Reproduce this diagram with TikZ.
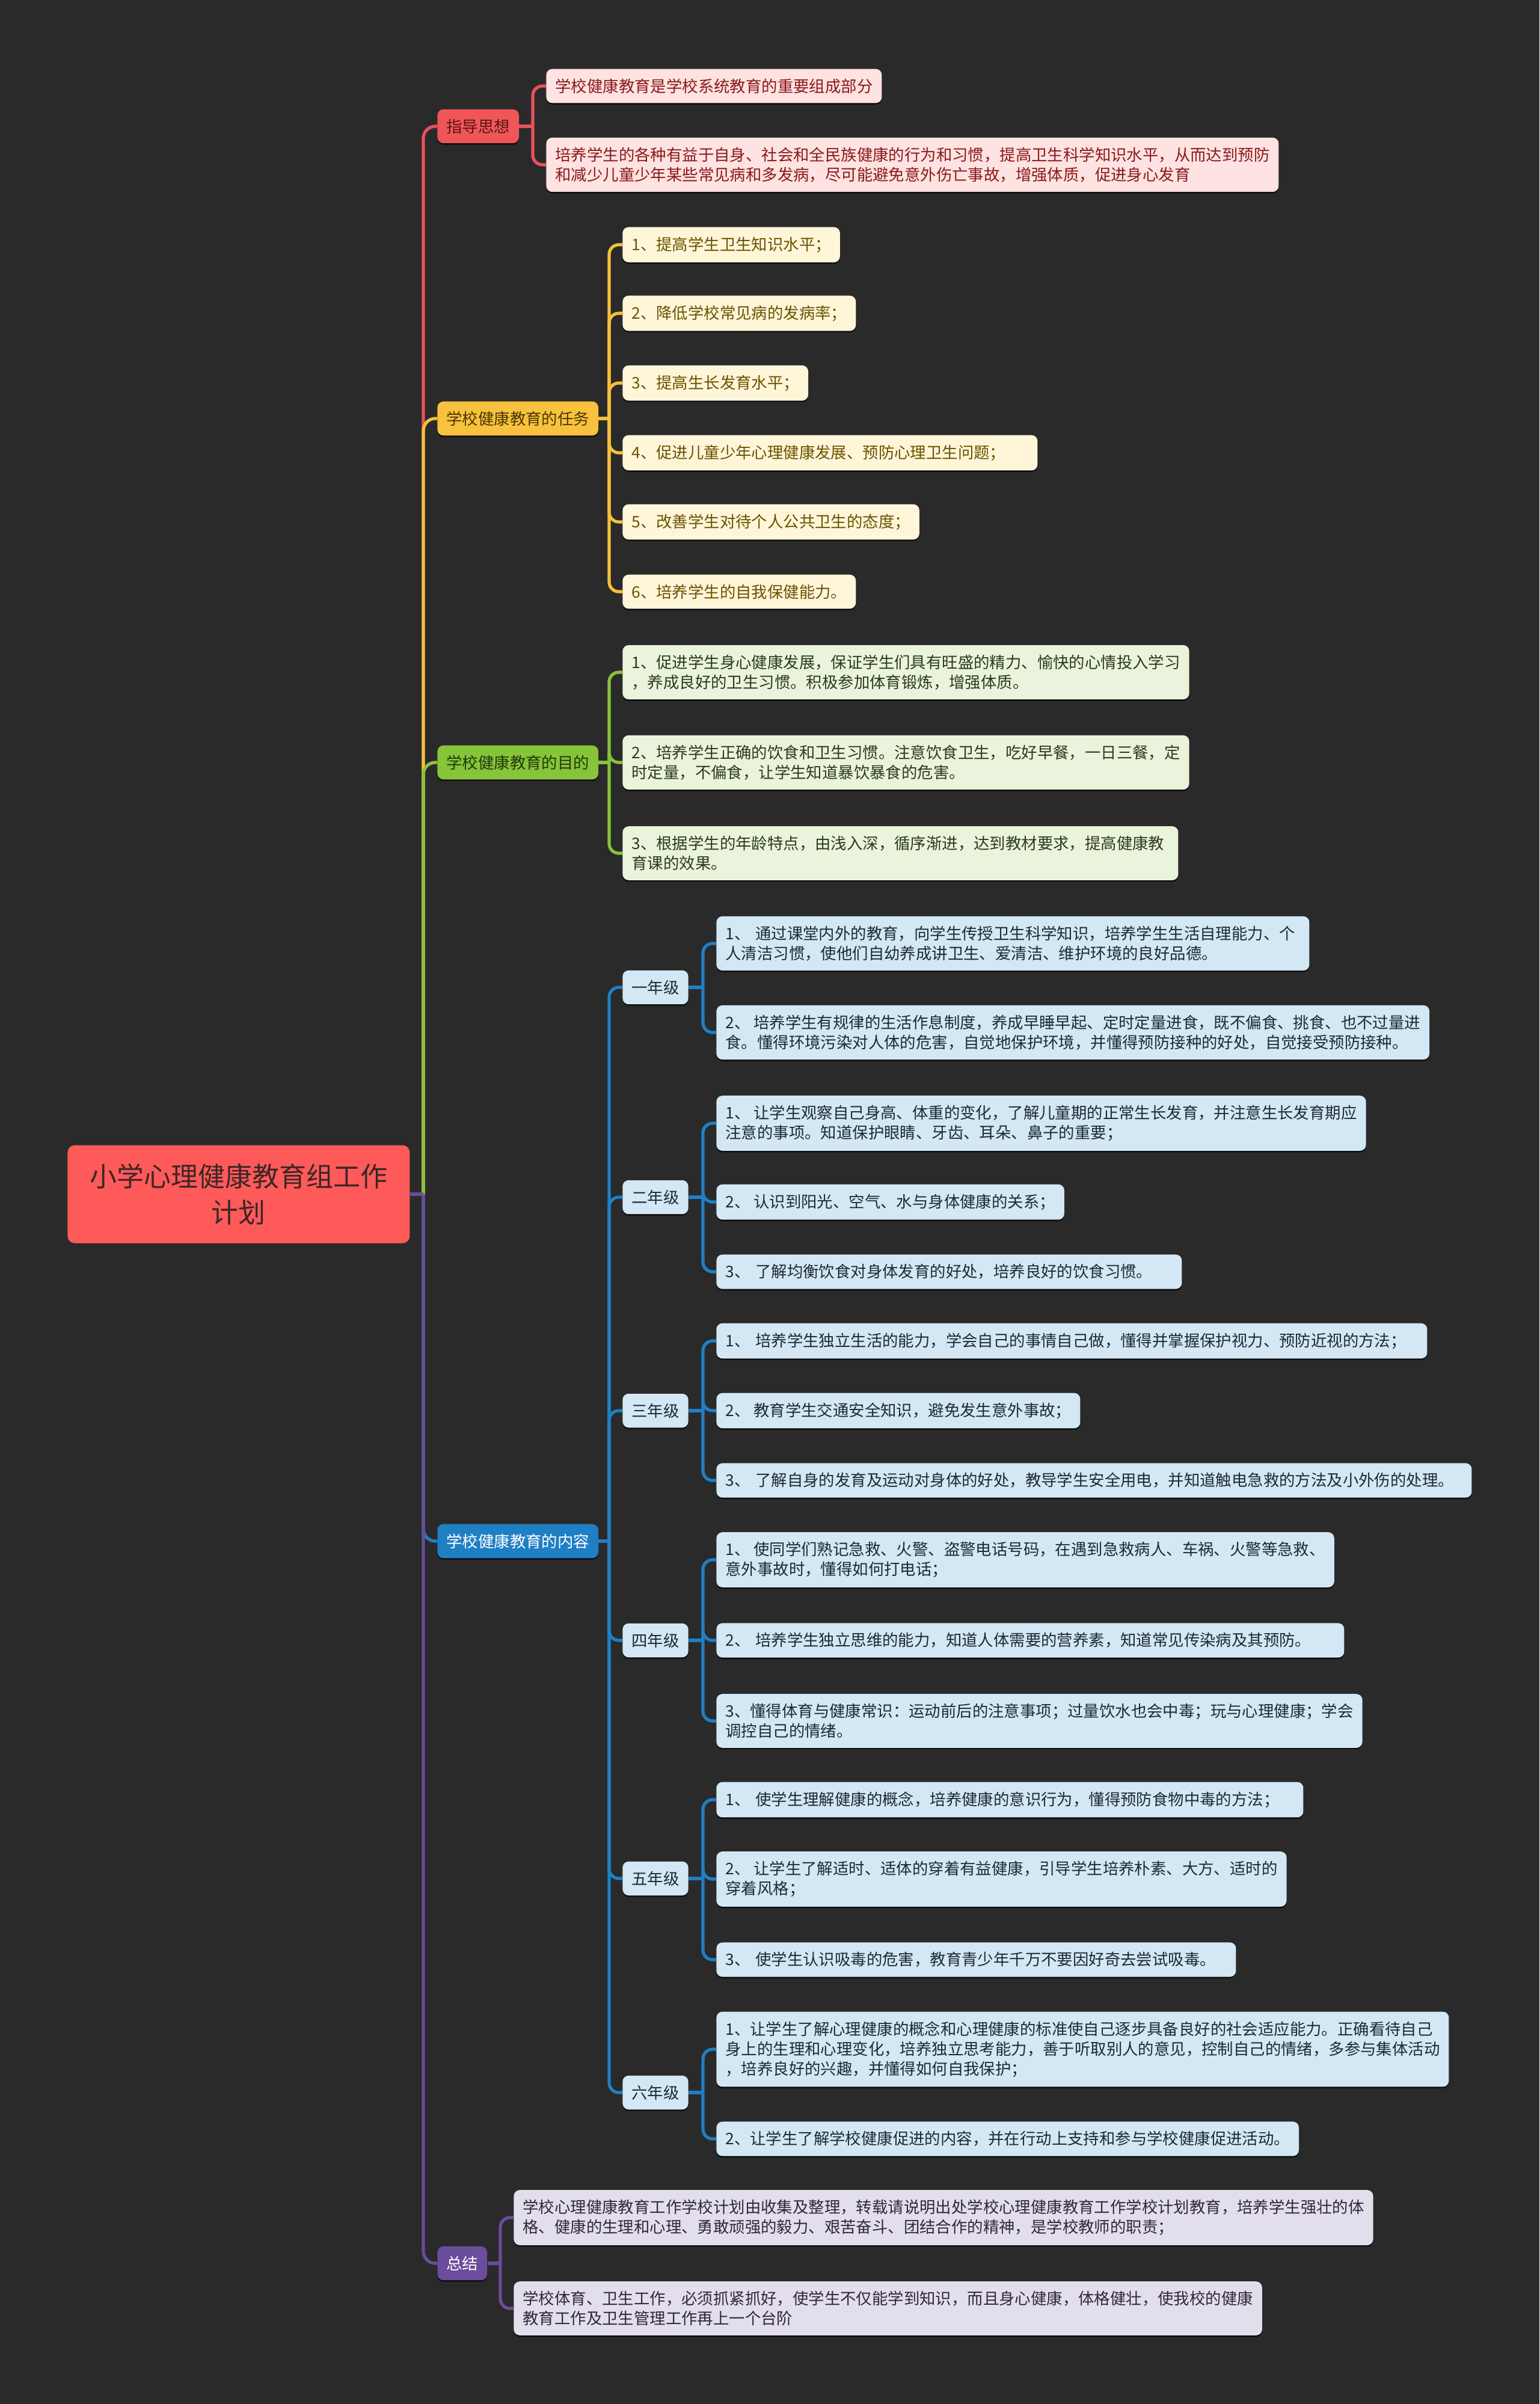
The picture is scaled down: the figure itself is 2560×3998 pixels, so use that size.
\documentclass[tikz,border=0pt]{standalone}
\usepackage{fontspec}
\setmainfont{Noto Sans CJK SC}
\usetikzlibrary{shadows}
\definecolor{bg}{HTML}{2A2A2A}
\definecolor{rootfill}{HTML}{FF5A5A}
\definecolor{roottext}{HTML}{3C2626}
\definecolor{redfill}{HTML}{F05659}
\definecolor{redtext}{HTML}{5A1414}
\definecolor{redline}{HTML}{E8525A}
\definecolor{pinkfill}{HTML}{FFE2E2}
\definecolor{pinktext}{HTML}{8A1A1A}
\definecolor{yelfill}{HTML}{F9C23E}
\definecolor{yeltext}{HTML}{4A3800}
\definecolor{yelline}{HTML}{F5C03C}
\definecolor{creamfill}{HTML}{FFF6D9}
\definecolor{creamtext}{HTML}{6B5200}
\definecolor{grnfill}{HTML}{86C43A}
\definecolor{grntext}{HTML}{213A0A}
\definecolor{grnline}{HTML}{86C43A}
\definecolor{lgrnfill}{HTML}{EAF4DC}
\definecolor{lgrntext}{HTML}{2C3A1E}
\definecolor{bluefill}{HTML}{1F7FC5}
\definecolor{blueline}{HTML}{1F7FC5}
\definecolor{lbluefill}{HTML}{D3E7F5}
\definecolor{lbluetext}{HTML}{1C2A36}
\definecolor{purfill}{HTML}{6A4D9C}
\definecolor{purline}{HTML}{6A4D9A}
\definecolor{lavfill}{HTML}{E3DEEC}
\definecolor{lavtext}{HTML}{2E2838}
\tikzset{
  box/.style={anchor=west, rounded corners=5pt, inner xsep=7.5pt, inner ysep=8pt,
    align=left, font=\fontsize{13.2pt}{16.5pt}\selectfont,
    drop shadow={shadow xshift=0pt, shadow yshift=-1.2pt, opacity=0.7, fill=black}},
  tw/.style={text width=#1},
  rootbox/.style={anchor=west, rounded corners=6pt, fill=rootfill, text=roottext,
    minimum width=284.5pt, minimum height=81.5pt, inner sep=0pt, align=center,
    font=\fontsize{22.5pt}{30pt}\selectfont},
  redbox/.style={box, fill=redfill, text=redtext},
  pinkbox/.style={box, fill=pinkfill, text=pinktext},
  yelbox/.style={box, fill=yelfill, text=yeltext},
  creambox/.style={box, fill=creamfill, text=creamtext},
  grnbox/.style={box, fill=grnfill, text=grntext},
  lgrnbox/.style={box, fill=lgrnfill, text=lgrntext},
  bluebox/.style={box, fill=bluefill, text=white},
  lbluebox/.style={box, fill=lbluefill, text=lbluetext},
  purbox/.style={box, fill=purfill, text=white},
  lavbox/.style={box, fill=lavfill, text=lavtext},
  trunkline/.style={line width=2.6pt, rounded corners=10pt},
  forkline/.style={line width=2.6pt, rounded corners=8pt},
}
\begin{document}
\begin{tikzpicture}[x=0.5pt,y=-0.5pt]
\fill[bg] (0,0) rectangle (2560,3998);
\useasboundingbox (0,0) rectangle (2560,3998);

% ---- root and level 1
\node[rootbox] (root) at (112,1986) {小学心理健康教育组工作\\计划};
\coordinate (trunk) at (704,1986);

\node[redbox] (b1) at (727,210) {指导思想};
\node[yelbox] (b2) at (727,696) {学校健康教育的任务};
\node[grnbox] (b3) at (727,1268) {学校健康教育的目的};
\node[bluebox] (b4) at (727,2563) {学校健康教育的内容};
\node[purbox] (b5) at (727,3764) {总结};

\draw[trunkline, redline] (trunk) |- (b1.west);
\draw[trunkline, yelline] (trunk) |- (b2.west);
\draw[trunkline, grnline] (trunk) |- (b3.west);
\draw[trunkline, blueline] (trunk) |- (b4.west);
\draw[trunkline, purline] (trunk) |- (b5.west);
\draw[trunkline, purline] (root.east) -- (trunk);

% ---- 指导思想
\node[pinkbox] (p1) at (908,143) {学校健康教育是学校系统教育的重要组成部分};
\node[pinkbox] (p2) at (908,274) {培养学生的各种有益于自身、社会和全民族健康的行为和习惯，提高卫生科学知识水平，从而达到预防\\和减少儿童少年某些常见病和多发病，尽可能避免意外伤亡事故，增强体质，促进身心发育};
\coordinate (f1) at (886,210);
\draw[forkline, redline] (b1.east) -- (f1);
\foreach \n in {p1,p2} \draw[forkline, redline] (f1) |- (\n.west);

% ---- 任务
\node[creambox] (t1) at (1035,407) {1、提高学生卫生知识水平；};
\node[creambox] (t2) at (1035,521) {2、降低学校常见病的发病率；};
\node[creambox] (t3) at (1035,637) {3、提高生长发育水平；};
\node[creambox, tw=330pt] (t4) at (1035,753) {4、促进儿童少年心理健康发展、预防心理卫生问题；};
\node[creambox] (t5) at (1035,868) {5、改善学生对待个人公共卫生的态度；};
\node[creambox] (t6) at (1035,984) {6、培养学生的自我保健能力。};
\coordinate (f2) at (1013,696);
\draw[forkline, yelline] (b2.east) -- (f2);
\foreach \n in {t1,t2,t3,t4,t5,t6} \draw[forkline, yelline] (f2) |- (\n.west);

% ---- 目的
\node[lgrnbox] (m1) at (1035,1118) {1、促进学生身心健康发展，保证学生们具有旺盛的精力、愉快的心情投入学习\\，养成良好的卫生习惯。积极参加体育锻炼，增强体质。};
\node[lgrnbox] (m2) at (1035,1268) {2、培养学生正确的饮食和卫生习惯。注意饮食卫生，吃好早餐，一日三餐，定\\时定量，不偏食，让学生知道暴饮暴食的危害。};
\node[lgrnbox, tw=447pt] (m3) at (1035,1419) {3、根据学生的年龄特点，由浅入深，循序渐进，达到教材要求，提高健康教\\育课的效果。};
\coordinate (f3) at (1013,1268);
\draw[forkline, grnline] (b3.east) -- (f3);
\foreach \n in {m1,m2,m3} \draw[forkline, grnline] (f3) |- (\n.west);

% ---- 内容: grades
\node[lbluebox] (g1) at (1035,1642) {一年级};
\node[lbluebox] (g2) at (1035,1991) {二年级};
\node[lbluebox] (g3) at (1035,2346) {三年级};
\node[lbluebox] (g4) at (1035,2728) {四年级};
\node[lbluebox] (g5) at (1035,3124) {五年级};
\node[lbluebox] (g6) at (1035,3480) {六年级};
\coordinate (f4) at (1013,2563);
\draw[forkline, blueline] (b4.east) -- (f4);
\foreach \n in {g1,g2,g3,g4,g5,g6} \draw[forkline, blueline] (f4) |- (\n.west);

% grade 1
\node[lbluebox, tw=478pt] (a1) at (1191,1569) {1、 通过课堂内外的教育，向学生传授卫生科学知识，培养学生生活自理能力、个\\人清洁习惯，使他们自幼养成讲卫生、爱清洁、维护环境的良好品德。};
\node[lbluebox] (a2) at (1191,1717) {2、 培养学生有规律的生活作息制度，养成早睡早起、定时定量进食，既不偏食、挑食、也不过量进\\食。懂得环境污染对人体的危害，自觉地保护环境，并懂得预防接种的好处，自觉接受预防接种。};
\coordinate (h1) at (1169,1642);
\draw[forkline, blueline] (g1.east) -- (h1);
\foreach \n in {a1,a2} \draw[forkline, blueline] (h1) |- (\n.west);

% grade 2
\node[lbluebox] (c1) at (1191,1868) {1、 让学生观察自己身高、体重的变化，了解儿童期的正常生长发育，并注意生长发育期应\\注意的事项。知道保护眼睛、牙齿、耳朵、鼻子的重要；};
\node[lbluebox] (c2) at (1191,1999) {2、 认识到阳光、空气、水与身体健康的关系；};
\node[lbluebox, tw=372pt] (c3) at (1191,2115) {3、 了解均衡饮食对身体发育的好处，培养良好的饮食习惯。};
\coordinate (h2) at (1169,1991);
\draw[forkline, blueline] (g2.east) -- (h2);
\foreach \n in {c1,c2,c3} \draw[forkline, blueline] (h2) |- (\n.west);

% grade 3
\node[lbluebox, tw=576pt] (d1) at (1191,2230) {1、 培养学生独立生活的能力，学会自己的事情自己做，懂得并掌握保护视力、预防近视的方法；};
\node[lbluebox] (d2) at (1191,2346) {2、 教育学生交通安全知识，避免发生意外事故；};
\node[lbluebox, tw=613pt] (d3) at (1191,2462) {3、 了解自身的发育及运动对身体的好处，教导学生安全用电，并知道触电急救的方法及小外伤的处理。};
\coordinate (h3) at (1169,2346);
\draw[forkline, blueline] (g3.east) -- (h3);
\foreach \n in {d1,d2,d3} \draw[forkline, blueline] (h3) |- (\n.west);

% grade 4
\node[lbluebox] (e1) at (1191,2594) {1、 使同学们熟记急救、火警、盗警电话号码，在遇到急救病人、车祸、火警等急救、\\意外事故时，懂得如何打电话；};
\node[lbluebox, tw=507pt] (e2) at (1191,2728) {2、 培养学生独立思维的能力，知道人体需要的营养素，知道常见传染病及其预防。};
\node[lbluebox] (e3) at (1191,2862) {3、懂得体育与健康常识：运动前后的注意事项；过量饮水也会中毒；玩与心理健康；学会\\调控自己的情绪。};
\coordinate (h4) at (1169,2728);
\draw[forkline, blueline] (g4.east) -- (h4);
\foreach \n in {e1,e2,e3} \draw[forkline, blueline] (h4) |- (\n.west);

% grade 5
\node[lbluebox, tw=473pt] (k1) at (1191,2993) {1、 使学生理解健康的概念，培养健康的意识行为，懂得预防食物中毒的方法；};
\node[lbluebox] (k2) at (1191,3125) {2、 让学生了解适时、适体的穿着有益健康，引导学生培养朴素、大方、适时的\\穿着风格；};
\node[lbluebox, tw=417pt] (k3) at (1191,3259) {3、 使学生认识吸毒的危害，教育青少年千万不要因好奇去尝试吸毒。};
\coordinate (h5) at (1169,3124);
\draw[forkline, blueline] (g5.east) -- (h5);
\foreach \n in {k1,k2,k3} \draw[forkline, blueline] (h5) |- (\n.west);

% grade 6
\node[lbluebox] (q1) at (1191,3408) {1、让学生了解心理健康的概念和心理健康的标准使自己逐步具备良好的社会适应能力。正确看待自己\\身上的生理和心理变化，培养独立思考能力，善于听取别人的意见，控制自己的情绪，多参与集体活动\\，培养良好的兴趣，并懂得如何自我保护；};
\node[lbluebox] (q2) at (1191,3557) {2、让学生了解学校健康促进的内容，并在行动上支持和参与学校健康促进活动。};
\coordinate (h6) at (1169,3480);
\draw[forkline, blueline] (g6.east) -- (h6);
\foreach \n in {q1,q2} \draw[forkline, blueline] (h6) |- (\n.west);

% ---- 总结
\node[lavbox] (s1) at (854,3688) {学校心理健康教育工作学校计划由收集及整理，转载请说明出处学校心理健康教育工作学校计划教育，培养学生强壮的体\\格、健康的生理和心理、勇敢顽强的毅力、艰苦奋斗、团结合作的精神，是学校教师的职责；};
\node[lavbox] (s2) at (854,3839) {学校体育、卫生工作，必须抓紧抓好，使学生不仅能学到知识，而且身心健康，体格健壮，使我校的健康\\教育工作及卫生管理工作再上一个台阶};
\coordinate (f5) at (832,3764);
\draw[forkline, purline] (b5.east) -- (f5);
\foreach \n in {s1,s2} \draw[forkline, purline] (f5) |- (\n.west);
\end{tikzpicture}
\end{document}
